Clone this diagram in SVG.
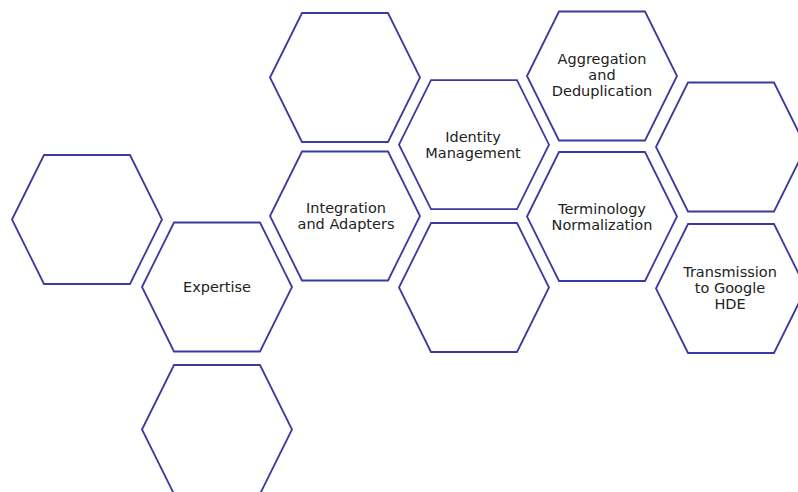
<svg xmlns="http://www.w3.org/2000/svg" width="798" height="492" viewBox="0 0 798 492">
<defs>
<polygon id="hex" points="-75,0 -43,-64.5 43,-64.5 75,0 43,64.5 -43,64.5"/>
</defs>
<style>
.h{fill:#ffffff;stroke:#3d3a9e;stroke-width:1.8}
.t{font-family:"DejaVu Sans",Verdana,sans-serif;font-size:14.5px;fill:#222222;text-anchor:middle}
</style>
<rect width="798" height="492" fill="#ffffff"/>
<g id="hex-left"><use href="#hex" class="h" x="87" y="219.5"/></g>
<g id="expertise"><use href="#hex" class="h" x="217" y="287"/><text class="t" x="217" y="292">Expertise</text></g>
<g id="hex-bottom"><use href="#hex" class="h" x="217" y="429.5"/></g>
<g id="hex-top"><use href="#hex" class="h" x="345" y="77.5"/></g>
<g id="integration"><use href="#hex" class="h" x="345" y="216"/><text class="t" x="346" y="212.5">Integration</text><text class="t" x="346" y="228.5">and Adapters</text></g>
<g id="identity"><use href="#hex" class="h" x="474" y="144.7"/><text class="t" x="473" y="141.7">Identity</text><text class="t" x="473" y="157.7">Management</text></g>
<g id="hex-mid"><use href="#hex" class="h" x="474" y="287.5"/></g>
<g id="aggregation"><use href="#hex" class="h" x="602" y="76"/><text class="t" x="602" y="64.3">Aggregation</text><text class="t" x="602" y="80">and</text><text class="t" x="602" y="95.7">Deduplication</text></g>
<g id="terminology"><use href="#hex" class="h" x="602" y="216.5"/><text class="t" x="602" y="213.7">Terminology</text><text class="t" x="602" y="229.5">Normalization</text></g>
<g id="hex-right"><use href="#hex" class="h" x="731" y="147"/></g>
<g id="transmission"><use href="#hex" class="h" x="731" y="288.5"/><text class="t" x="730" y="277.3">Transmission</text><text class="t" x="730" y="293.3">to Google</text><text class="t" x="730" y="309.3">HDE</text></g>
<g id="connectors"></g>
</svg>
